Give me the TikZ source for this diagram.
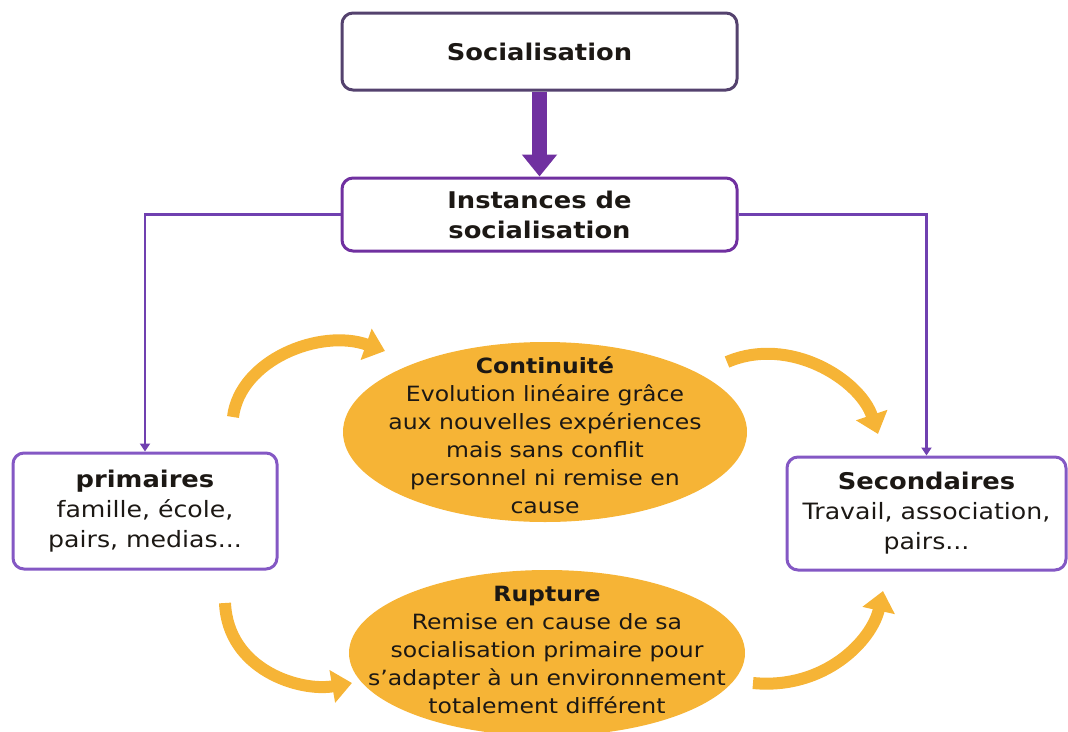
\documentclass[tikz,border=0pt]{standalone}
\usepackage{fontspec}
\setmainfont{DejaVu Sans}[FakeStretch=1.12]
\usepackage{tikz}
\usetikzlibrary{shapes.geometric,arrows.meta,positioning}
\definecolor{socgray}{RGB}{84,66,110}
\definecolor{instpurple}{RGB}{112,48,160}
\definecolor{boxpurple}{RGB}{132,88,196}
\definecolor{linkpurple}{RGB}{112,64,176}
\definecolor{blobyellow}{RGB}{246,180,54}
\definecolor{inkdark}{RGB}{28,24,20}

\begin{document}
\begin{tikzpicture}[
    x=1pt, y=-1pt,
    node distance=85pt,
    box/.style={rectangle, draw, line width=3pt, rounded corners=11pt, align=center, inner sep=0pt, text=inkdark},
    headbox/.style={box, minimum width=395pt, font=\bfseries\fontsize{23}{30}\selectfont},
    groupbox/.style={box, draw=boxpurple, font=\fontsize{22.5}{30}\selectfont},
    blob/.style={ellipse, fill=blobyellow, inner sep=0pt},
    blobtext/.style={align=center, text=inkdark, inner sep=0pt, font=\fontsize{21}{28}\selectfont},
    link/.style={-{Triangle[width=10pt,length=8pt]}, draw=linkpurple, line width=2.6pt},
    bigarrow/.style={-{Triangle[width=34pt,length=22pt]}, draw=instpurple, line width=15pt},
    swirl/.style={-{Triangle[width=32pt,length=20pt]}, draw=blobyellow, line width=12pt}
]
    \useasboundingbox (0,0) rectangle (1068,731);

    \node[headbox, draw=socgray, minimum height=77pt] (soc) at (539.5,51.5) {Socialisation};
    \node[headbox, draw=instpurple, minimum height=73pt, below=of soc] (inst) {Instances de\\socialisation};
    \node[groupbox, minimum width=264pt, minimum height=116pt] (prim) at (145,511)
        {{\bfseries\fontsize{23}{30}\selectfont primaires}\\famille, école,\\pairs, medias...};
    \node[groupbox, minimum width=279pt, minimum height=113pt] (sec) at (926.5,513.5)
        {{\bfseries\fontsize{23}{30}\selectfont Secondaires}\\Travail, association,\\pairs...};

    % ellipses
    \node[blob, minimum width=404pt, minimum height=180pt] (cont) at (545,432) {};
    \node[blobtext, yshift=-3pt] (conttxt) at (cont.center)
        {{\bfseries Continuité}\\Evolution linéaire grâce\\aux nouvelles expériences\\mais sans conflit\\personnel ni remise en\\cause};
    \node[blob, minimum width=396pt, minimum height=166pt] (rupt) at (547,653) {};
    \node[blobtext, yshift=3pt] (rupttxt) at (rupt.center)
        {{\bfseries Rupture}\\Remise en cause de sa\\socialisation primaire pour\\s’adapter à un environnement\\totalement différent};

    \draw[bigarrow] (soc) -- (inst);
    \draw[link] (inst.west) -| (prim.north);
    \draw[link] (inst.east) -| (sec.north);

    % curved arrows
    \coordinate (ul0) at (233,417); \coordinate (ul1) at (385,351);
    \coordinate (ur0) at (727,362); \coordinate (ur1) at (878,434);
    \coordinate (ll0) at (225,603); \coordinate (ll1) at (352,683);
    \coordinate (lr0) at (753,683); \coordinate (lr1) at (883,591);
    \draw[swirl] (ul0) .. controls (240,360) and (320,328) .. (ul1);
    \draw[swirl] (ur0) .. controls (790,335) and (860,380) .. (ur1);
    \draw[swirl] (ll0) .. controls (228,670) and (300,692) .. (ll1);
    \draw[swirl] (lr0) .. controls (825,690) and (872,640) .. (lr1);
\end{tikzpicture}
\end{document}
